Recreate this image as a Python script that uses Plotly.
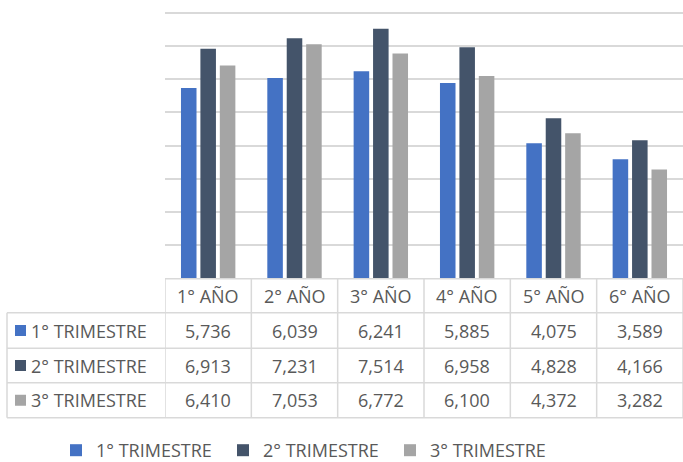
import plotly.graph_objects as go

categories = ["1° AÑO", "2° AÑO", "3° AÑO", "4° AÑO", "5° AÑO", "6° AÑO"]
series_names = ["1° TRIMESTRE", "2° TRIMESTRE", "3° TRIMESTRE"]
trim1 = [5736, 6039, 6241, 5885, 4075, 3589]
trim2 = [6913, 7231, 7514, 6958, 4828, 4166]
trim3 = [6410, 7053, 6772, 6100, 4372, 3282]
colors = ["#4472C4", "#44546A", "#A5A5A5"]

W, H = 683, 462
FONT = "Open Sans"
FS = 18
TXT = "#595959"
GRID = "#D9D9D9"


def py(p):
    return 1 - p / H


def px(p):
    return p / W


series = [trim1, trim2, trim3]
fig = go.Figure()
for name, vals, col in zip(series_names, series, colors):
    fig.add_trace(go.Bar(x=categories, y=vals, name=name, marker_color=col,
                         marker_line_width=0))

x_left = 165
y_axis = 278.7
y_grid_top = 12.7
grid_max = 8000
range_max = 8040
y_top = y_axis - (y_axis - y_grid_top) * range_max / grid_max
row_edges = [y_axis, 312.8, 348.2, 382.8, 417.7]
table_left = 7

shapes = []
shapes.append(dict(type="line", xref="paper", yref="paper", x0=px(x_left), x1=1,
                   y0=py(row_edges[0]), y1=py(row_edges[0]), line=dict(color=GRID, width=1.5)))
for ye in row_edges[1:]:
    shapes.append(dict(type="line", xref="paper", yref="paper", x0=px(table_left), x1=1,
                       y0=py(ye), y1=py(ye), line=dict(color=GRID, width=1.5)))
shapes.append(dict(type="line", xref="paper", yref="paper", x0=px(table_left), x1=px(table_left),
                   y0=py(row_edges[1]), y1=py(row_edges[-1]), line=dict(color=GRID, width=1.5)))
for k in range(len(categories) + 1):
    xv = k - 0.5
    shapes.append(dict(type="line", xref="x", yref="paper", x0=xv, x1=xv,
                       y0=py(row_edges[0]), y1=py(row_edges[-1]), line=dict(color=GRID, width=1.5)))

annotations = []
for c in categories:
    annotations.append(dict(x=c, xref="x", xanchor="center",
                            y=py((row_edges[0] + row_edges[1]) / 2), yref="paper", yanchor="middle",
                            text=c, showarrow=False, font=dict(family=FONT, size=FS, color=TXT)))
for r, (name, vals, col) in enumerate(zip(series_names, series, colors)):
    yc = (row_edges[r + 1] + row_edges[r + 2]) / 2
    shapes.append(dict(type="rect", xref="paper", yref="paper", x0=px(15), x1=px(26),
                       y0=py(yc + 5.5), y1=py(yc - 5.5), fillcolor=col, line=dict(width=0)))
    annotations.append(dict(x=px(29), xref="paper", xanchor="left", y=py(yc), yref="paper",
                            yanchor="middle", text=name, showarrow=False,
                            font=dict(family=FONT, size=FS, color=TXT)))
    for c, v in zip(categories, vals):
        annotations.append(dict(x=c, xref="x", xanchor="center", y=py(yc), yref="paper",
                                yanchor="middle", text=f"{v:,}",
                                showarrow=False, font=dict(family=FONT, size=FS, color=TXT)))

fig.update_layout(
    width=W, height=H, margin=dict(l=0, r=0, t=0, b=0, autoexpand=False),
    paper_bgcolor="white", plot_bgcolor="white",
    barmode="group", bargap=0.325, bargroupgap=0.2,
    xaxis=dict(domain=[px(x_left), 1], range=[-0.5, 5.5], showticklabels=False,
               showgrid=False, zeroline=False, showline=False, ticks=""),
    yaxis=dict(domain=[py(y_axis), py(y_top)], range=[0, range_max], tick0=0, dtick=1000,
               showticklabels=False, showgrid=True, gridcolor=GRID, gridwidth=1.5,
               zeroline=False, showline=False, ticks=""),
    shapes=shapes, annotations=annotations,
    showlegend=True,
    legend=dict(orientation="h", x=px(56), xanchor="left", y=py(450.5), yanchor="middle",
                font=dict(family=FONT, size=FS, color=TXT),
                entrywidth=122, entrywidthmode="pixels", bgcolor="rgba(0,0,0,0)"),
)

fig.write_html("out.html", config={"displayModeBar": False},
               post_script="document.body.style.margin='0';document.body.style.overflow='hidden';")
